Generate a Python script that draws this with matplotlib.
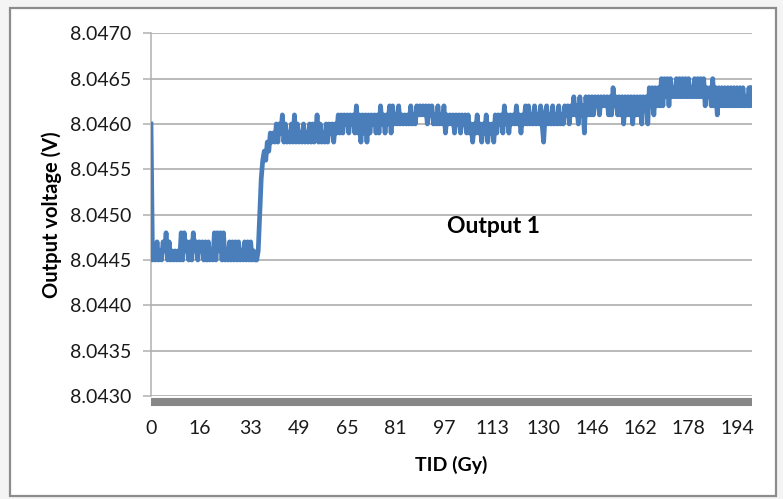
import numpy as np
import matplotlib
matplotlib.use("Agg")
import matplotlib.pyplot as plt
from matplotlib.patches import Rectangle

plt.rcParams['font.family'] = ['Lato', 'DejaVu Sans']

# Output 1 readings, in 0.1 mV above 8.0440 V, one reading every 0.5 Gy
pre_dose = [20, 5, 6, 5, 7, 5, 6, 5, 7, 6,
            8, 5, 7, 5, 6, 5, 6, 5, 6, 5,
            8, 5, 8, 6, 7, 5, 7, 5, 8, 6,
            7, 5, 7, 6, 7, 5, 7, 5, 7, 5,
            6, 5, 8, 5, 8, 6, 8, 5, 8, 5,
            6, 5, 7, 5, 7, 5, 7, 5, 7, 5,
            6, 5, 7, 5, 7, 5, 7, 5, 6, 5]
step_up = [5, 6, 10, 14, 16, 17, 16, 18, 17, 19]
plateau_a = [18, 19, 18, 20, 18, 20, 19, 21, 18, 20,
             18, 19, 18, 20, 18, 21, 18, 20, 18, 19,
             18, 20, 18, 19, 18, 20, 18, 20, 18, 19,
             21, 18, 20, 18, 19, 18, 20, 18, 20, 19,
             20, 18, 20, 19, 21, 19, 21, 19, 21, 20,
             21, 19, 21, 20, 21, 19, 22, 19, 21, 18,
             21, 19, 21, 18, 21, 19, 21, 20, 21, 19,
             21, 19, 22, 20, 21, 19, 21, 20, 22, 19,
             22, 20, 21, 20, 22, 20, 21, 20, 21, 20,
             21, 20, 22, 20, 21, 20, 22, 21, 22, 21,
             22, 21, 22, 20, 22, 21, 22, 20, 21, 20,
             22, 20, 21, 20, 22, 19, 21, 20, 21, 20]
plateau_b = [21, 19, 21, 20, 21, 19, 21, 20, 21, 19,
             21, 19, 20, 18, 20, 19, 21, 19, 20, 18,
             20, 19, 21, 18, 20, 19, 20, 18, 21, 19,
             21, 20, 21, 19, 22, 20, 21, 19, 21, 20,
             21, 20, 22, 20, 21, 19, 21, 20, 22, 20,
             22, 20, 21, 20, 22, 20, 21, 20, 22, 20,
             18, 21, 22, 20, 21, 20, 22, 20, 21, 20,
             22, 20, 21, 20, 22, 21, 22, 20, 22, 21,
             23, 21, 22, 20, 23, 21, 22, 19, 23, 21,
             23, 21, 23, 21, 23, 22, 23, 21, 23, 22,
             23, 22, 23, 21, 23, 21, 24, 22, 23, 21,
             23, 21, 23, 20, 23, 21, 23, 21, 23, 20,
             23, 21, 23, 21, 23, 20, 23, 22, 23, 20]
plateau_c = [24, 22, 24, 21, 24, 22, 24, 22, 25, 22,
             25, 23, 25, 22, 25, 23, 24, 23, 25, 23,
             25, 23, 25, 23, 25, 23, 25, 23, 24, 23,
             25, 23, 25, 23, 25, 23, 25, 22, 24, 23,
             24, 22, 25, 22, 24, 21, 24, 22, 24, 22,
             24, 22, 24, 22, 24, 22, 24, 22, 24, 22,
             24, 22, 24, 22, 23, 22, 24, 22, 24]

dose_step = 0.5
base_volts = 8.0440
x_tick_doses = [0, 16, 33, 49, 65, 81, 97, 113, 130, 146, 162, 178, 194]

codes = np.array(pre_dose + step_up + plateau_a + plateau_b + plateau_c, dtype=float)
volts = base_volts + codes * 1e-4
dose = np.arange(len(volts)) * dose_step

fig = plt.figure(figsize=(7.83, 4.99), dpi=100, facecolor='#f4f4f4')
# chart area frame, kept behind the axes
frame = Rectangle((10 / 783, 3 / 499), 766 / 783, 488 / 499,
                  transform=fig.transFigure, facecolor='white',
                  edgecolor='#8c8c8c', linewidth=1.6, zorder=-10)
fig.patches.append(frame)

ax = fig.add_axes([151 / 783, 1 - 396 / 499, 601 / 783, 362.7 / 499])
ax.set_facecolor('none')

ax.plot(dose, volts, color='#4a7ebb', linewidth=3.4, solid_joinstyle='round', zorder=3)

ax.set_xlim(0, dose[-1])
ax.set_ylim(8.0430, 8.0470)
ax.set_yticks(np.linspace(8.0430, 8.0470, 9))
ax.yaxis.set_major_formatter(plt.FormatStrFormatter('%.4f'))
ax.set_xticks(x_tick_doses)
ax.set_xticklabels([str(v) for v in x_tick_doses])

ax.grid(axis='y', color='#a6a6a6', linewidth=1.1, zorder=1)
for side in ['top', 'right']:
    ax.spines[side].set_visible(False)
ax.spines['left'].set_color('#b0b0b0')
ax.spines['left'].set_linewidth(1.1)
ax.spines['bottom'].set_color('#878787')
ax.spines['bottom'].set_linewidth(5.8)
ax.spines['bottom'].set_position(('outward', 4))
ax.spines['bottom'].set_capstyle('butt')

ax.tick_params(axis='y', length=6, width=1.1, color='#b0b0b0', pad=8,
               labelsize=14, labelcolor='#1a1a1a')
ax.tick_params(axis='x', length=0, pad=13, labelsize=14, labelcolor='#1a1a1a')

ax.set_ylabel('Output voltage (V)', fontsize=14.5, fontweight='bold', va='center')
ax.yaxis.set_label_coords(-0.165, 0.5)
ax.set_xlabel('TID (Gy)', fontsize=14, fontweight='bold', va='center')
ax.xaxis.set_label_coords(0.5, -0.19)

ax.text(0.4925, 0.466, 'Output 1', transform=ax.transAxes, fontsize=16.5,
        fontweight='bold', ha='left', va='center')

fig.savefig('out.png', dpi=100, facecolor=fig.get_facecolor())
